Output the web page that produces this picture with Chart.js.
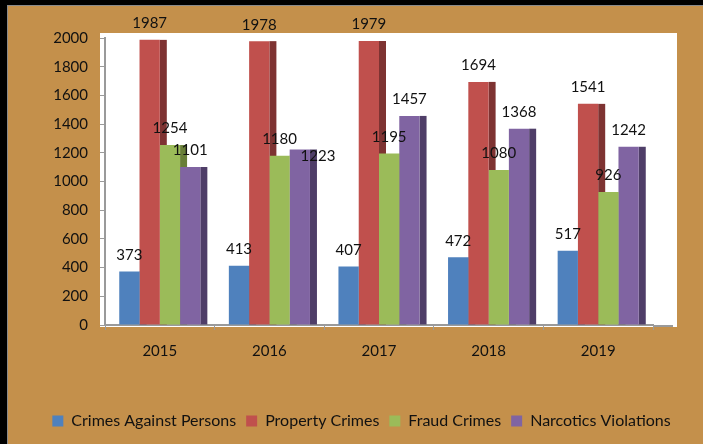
<!DOCTYPE html>
<html>
<head>
<meta charset="utf-8">
<script src="https://cdn.jsdelivr.net/npm/chart.js@4/dist/chart.umd.min.js"></script>
<style>
  html, body { margin: 0; padding: 0; background: #000; }
  canvas { display: block; }
</style>
</head>
<body>
<canvas id="c" width="703" height="444"></canvas>
<script>
const years = ['2015', '2016', '2017', '2018', '2019'];
const seriesNames = ['Crimes Against Persons', 'Property Crimes', 'Fraud Crimes', 'Narcotics Violations'];
const crimesAgainstPersons = [373, 413, 407, 472, 517];
const propertyCrimes = [1987, 1978, 1979, 1694, 1541];
const fraudCrimes = [1254, 1180, 1195, 1080, 926];
const narcoticsViolations = [1101, 1223, 1457, 1368, 1242];
const yTicks = [0, 200, 400, 600, 800, 1000, 1200, 1400, 1600, 1800, 2000];

const frontColors = ['#4F81BD', '#C0504D', '#9BBB59', '#8064A2'];
const sideColors = ['#385D8A', '#7E3332', '#687E38', '#4F3E68'];
const FONT = 'Lato, "Open Sans", sans-serif';
const DEPTH = 7;

const backgroundPlugin = {
  id: 'bg',
  beforeDraw(chart) {
    const ctx = chart.ctx, a = chart.chartArea;
    ctx.save();
    ctx.fillStyle = '#000';
    ctx.fillRect(0, 0, chart.width, chart.height);
    ctx.fillStyle = '#8a8a8a';
    ctx.fillRect(7, 5, chart.width - 7, chart.height - 5);
    ctx.fillStyle = '#C4904B';
    ctx.fillRect(8, 6, chart.width - 8, chart.height - 6);
    ctx.fillStyle = '#FFFFFF';
    ctx.fillRect(a.left - 5, a.top - 5, (a.right + 24) - (a.left - 5), (a.bottom + 2) - (a.top - 5));
    ctx.restore();
  },
  beforeDatasetsDraw(chart) {
    const ctx = chart.ctx, a = chart.chartArea;
    ctx.save();
    ctx.strokeStyle = '#9a9a9a';
    ctx.lineWidth = 2;
    ctx.beginPath();
    ctx.moveTo(a.right, a.bottom + 1);
    ctx.lineTo(a.right + 20, a.bottom + 1);
    ctx.stroke();
    chart.data.datasets.forEach((ds, i) => {
      const meta = chart.getDatasetMeta(i);
      meta.data.forEach(el => {
        ctx.fillStyle = sideColors[i];
        ctx.fillRect(el.x + el.width / 2, el.y, DEPTH, el.base - el.y);
      });
    });
    ctx.restore();
  }
};

const labelPlugin = {
  id: 'vals',
  afterDatasetsDraw(chart) {
    const ctx = chart.ctx;
    ctx.save();
    ctx.font = '15px ' + FONT;
    ctx.fillStyle = '#111';
    ctx.textAlign = 'center';
    ctx.textBaseline = 'middle';
    const placed = {};
    chart.data.datasets.forEach((ds, i) => {
      const meta = chart.getDatasetMeta(i);
      meta.data.forEach((el, j) => {
        const txt = String(ds.data[j]);
        const w = ctx.measureText(txt).width;
        let x = el.x, y = el.y - 16.5;
        placed[j] = placed[j] || [];
        const hit = placed[j].some(b => Math.abs(b.x - x) < (b.w + w) / 2 && Math.abs(b.y - y) < 15);
        if (hit) { x = el.x + el.width / 2 + 8; y = el.y + 7; }
        placed[j].push({ x, y, w });
        ctx.fillText(txt, x, y);
      });
    });
    ctx.restore();
  }
};

const seriesData = [crimesAgainstPersons, propertyCrimes, fraudCrimes, narcoticsViolations];

new Chart(document.getElementById('c'), {
  type: 'bar',
  data: {
    labels: years,
    datasets: seriesNames.map((name, i) => ({
      label: name,
      data: seriesData[i],
      backgroundColor: frontColors[i],
      borderWidth: 0,
      categoryPercentage: 0.74,
      barPercentage: 1.0
    }))
  },
  options: {
    responsive: false,
    devicePixelRatio: 1,
    animation: false,
    layout: { padding: { left: 20, right: 0, top: 38, bottom: 5 } },
    plugins: {
      tooltip: { enabled: false },
      legend: {
        position: 'bottom',
        labels: {
          boxWidth: 11,
          boxHeight: 11,
          padding: 10,
          color: '#111',
          font: { family: FONT, size: 16 }
        }
      }
    },
    scales: {
      x: {
        offset: true,
        grid: { offset: true, drawOnChartArea: false, drawTicks: true, tickLength: 5, color: '#9a9a9a', lineWidth: 1 },
        border: { display: true, color: '#9a9a9a', width: 2 },
        ticks: { color: '#111', font: { family: FONT, size: 15 }, padding: 12 },
        afterFit(scale) { scale.height = 78; }
      },
      y: {
        min: 0,
        max: 2000,
        afterBuildTicks(scale) { scale.ticks = yTicks.map(v => ({ value: v })); },
        grid: { drawOnChartArea: false, drawTicks: true, tickLength: 5, color: '#9a9a9a', lineWidth: 1 },
        border: { display: true, color: '#9a9a9a', width: 2 },
        ticks: { color: '#111', font: { family: FONT, size: 15 }, padding: 12, callback: v => String(v) },
        afterFit(scale) { scale.width = 85; }
      },
      yRightSpace: {
        position: 'right',
        display: true,
        min: 0,
        max: 2000,
        grid: { display: false, drawTicks: false },
        border: { display: false },
        ticks: { display: false },
        afterFit(scale) { scale.width = 50; }
      }
    }
  },
  plugins: [backgroundPlugin, labelPlugin]
});
</script>
</body>
</html>
